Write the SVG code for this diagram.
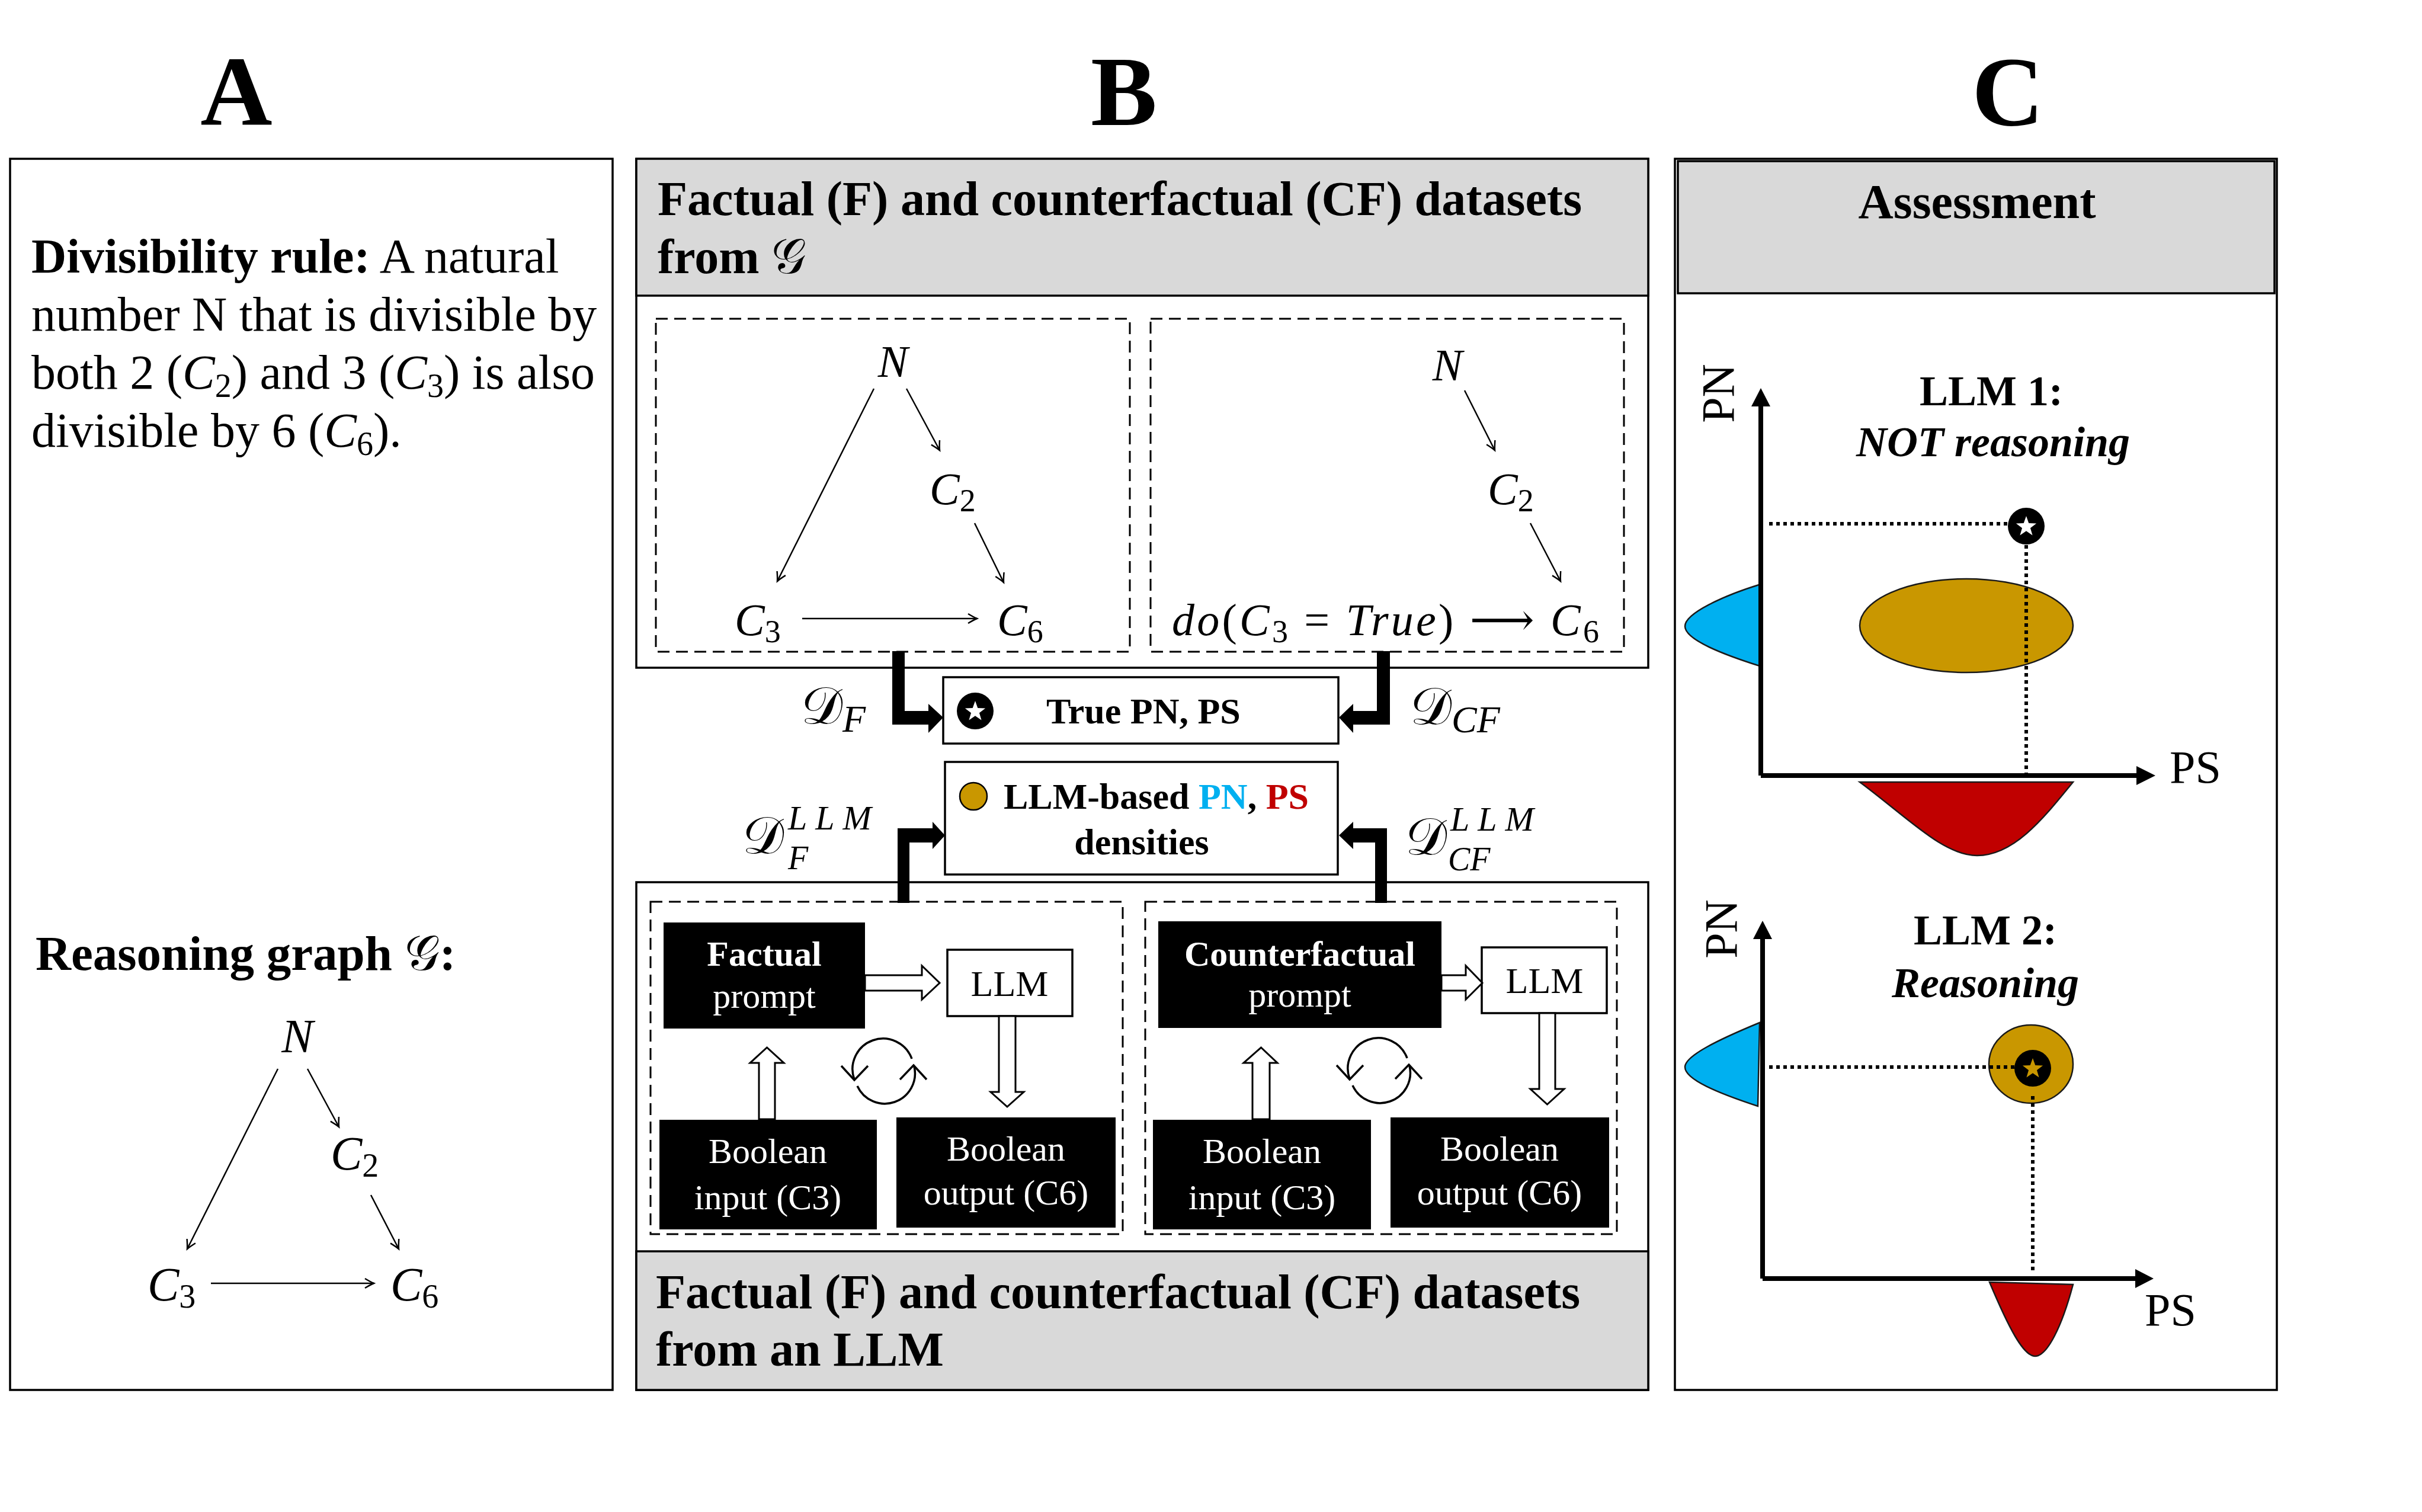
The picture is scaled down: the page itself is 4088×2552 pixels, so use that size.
<svg xmlns="http://www.w3.org/2000/svg" width="4088" height="2552" viewBox="0 0 4088 2552">
<style>
.t{font-family:"Liberation Serif","Times New Roman",serif;fill:#000}
.b{font-weight:bold}
.i{font-style:italic}
.w{fill:#fff}
.box{fill:#fff;stroke:#000;stroke-width:3.5}
.gray{fill:#D9D9D9;stroke:#000;stroke-width:3.5}
.dash{fill:none;stroke:#000;stroke-width:3;stroke-dasharray:20 11}
.blk{fill:#000}
.edge{fill:none;stroke:#000;stroke-width:2.5;marker-end:url(#tip)}
.hollow{fill:#fff;stroke:#000;stroke-width:3}
.thick{fill:#000}
.axis{fill:none;stroke:#000;stroke-width:8}
.dot{fill:none;stroke:#000;stroke-width:6;stroke-dasharray:6 6}
.cyc{fill:none;stroke:#000;stroke-width:3.5}
.math{font-family:"DejaVu Serif","Liberation Serif",serif;font-style:normal}
</style>
<defs>
<marker id="tip" viewBox="-20 -12 24 24" markerWidth="24" markerHeight="24" refX="0" refY="0" orient="auto" markerUnits="userSpaceOnUse" overflow="visible">
<path d="M-15,-8 Q-5,-2 0,0 Q-5,2 -15,8" fill="none" stroke="#000" stroke-width="2.5"/>
</marker>
<polygon id="star" points="0,-18 4.29,-5.91 17.12,-5.56 6.94,2.26 10.58,14.56 0,7.3 -10.58,14.56 -6.94,2.26 -17.12,-5.56 -4.29,-5.91"/>
<g id="cycle">
<path class="cyc" d="M47,-21 A51,51 0 0 0 -50,14"/>
<path class="cyc" d="M-72,-9 L-50,15 L-27,-9"/>
<path class="cyc" d="M-45,25 A51,51 0 0 0 51,-8"/>
<path class="cyc" d="M27,14 L50,-10 L72,14"/>
</g>
</defs>
<rect width="4088" height="2552" fill="#fff"/>

<g id="labels">
<text class="t b" x="399" y="211" font-size="168" text-anchor="middle">A</text>
<text class="t b" x="1897" y="211" font-size="168" text-anchor="middle">B</text>
<text class="t b" x="3389" y="211" font-size="168" text-anchor="middle">C</text>
</g>

<!-- Panel A -->
<g id="panelA">
<rect class="box" x="17" y="268" width="1017" height="2078"/>
<text class="t" x="53" y="460" font-size="82"><tspan class="b">Divisibility rule:</tspan> A natural</text>
<text class="t" x="53" y="558" font-size="82">number N that is divisible by</text>
<text class="t" x="53" y="656" font-size="82">both 2 (<tspan class="i">C</tspan><tspan dy="14" font-size="56">2</tspan><tspan dy="-14">) and 3 (</tspan><tspan class="i">C</tspan><tspan dy="14" font-size="56">3</tspan><tspan dy="-14">) is also</tspan></text>
<text class="t" x="53" y="754" font-size="82">divisible by 6 (<tspan class="i">C</tspan><tspan dy="14" font-size="56">6</tspan><tspan dy="-14">).</tspan></text>
<text class="t b" x="60" y="1637" font-size="83">Reasoning graph <tspan class="math" font-weight="normal">𝒢</tspan>:</text>
</g>
<g id="graphA">
<text class="t i" x="502" y="1776" font-size="80" text-anchor="middle">N</text>
<text class="t" x="558" y="1974" font-size="80"><tspan class="i">C</tspan><tspan dy="12" font-size="56">2</tspan></text>
<text class="t" x="249" y="2195" font-size="80"><tspan class="i">C</tspan><tspan dy="12" font-size="56">3</tspan></text>
<text class="t" x="659" y="2195" font-size="80"><tspan class="i">C</tspan><tspan dy="12" font-size="56">6</tspan></text>
<line class="edge" x1="469" y1="1804" x2="316" y2="2108"/>
<line class="edge" x1="519" y1="1804" x2="572" y2="1902"/>
<line class="edge" x1="626" y1="2017" x2="673" y2="2108"/>
<line class="edge" x1="356" y1="2166" x2="631" y2="2166"/>
</g>

<!-- Panel B top -->
<g id="panelB-top">
<rect class="box" x="1074" y="268" width="1708" height="859"/>
<rect class="gray" x="1074" y="268" width="1708" height="231"/>
<text class="t b" x="1110" y="363" font-size="82">Factual (F) and counterfactual (CF) datasets</text>
<text class="t b" x="1110" y="461" font-size="82">from <tspan class="math" font-weight="normal">𝒢</tspan></text>
</g>
<g id="graphF">
<rect class="dash" x="1107" y="538" width="800" height="562"/>
<text class="t i" x="1507" y="636" font-size="76" text-anchor="middle">N</text>
<text class="t" x="1569" y="851" font-size="76"><tspan class="i">C</tspan><tspan dy="12" font-size="54">2</tspan></text>
<text class="t" x="1240" y="1072" font-size="76"><tspan class="i">C</tspan><tspan dy="12" font-size="54">3</tspan></text>
<text class="t" x="1683" y="1072" font-size="76"><tspan class="i">C</tspan><tspan dy="12" font-size="54">6</tspan></text>
<line class="edge" x1="1475" y1="656" x2="1312" y2="981"/>
<line class="edge" x1="1530" y1="656" x2="1586" y2="760"/>
<line class="edge" x1="1645" y1="883" x2="1694" y2="983"/>
<line class="edge" x1="1354" y1="1044" x2="1649" y2="1044"/>
</g>
<g id="graphCF">
<rect class="dash" x="1942" y="538" width="799" height="562"/>
<text class="t i" x="2443" y="642" font-size="76" text-anchor="middle">N</text>
<text class="t" x="2511" y="851" font-size="76"><tspan class="i">C</tspan><tspan dy="12" font-size="54">2</tspan></text>
<text class="t" x="1978" y="1072" font-size="76" textLength="721" lengthAdjust="spacing"><tspan class="i">do</tspan>(<tspan class="i">C</tspan><tspan dy="12" font-size="54">3</tspan><tspan dy="-12"> = </tspan><tspan class="i">True</tspan>) <tspan class="math">⟶</tspan> <tspan class="i">C</tspan><tspan dy="12" font-size="54">6</tspan></text>
<line class="edge" x1="2472" y1="659" x2="2523" y2="760"/>
<line class="edge" x1="2583" y1="883" x2="2634" y2="981"/>
</g>

<!-- middle boxes -->
<g id="truePNPS">
<rect class="box" x="1592" y="1143" width="667" height="112"/>
<circle cx="1646" cy="1200" r="31" class="blk"/>
<use href="#star" x="1646" y="1201" fill="#fff"/>
<text class="t b" x="1766" y="1221" font-size="62">True PN, PS</text>
</g>
<g id="llmPNPS">
<rect class="box" x="1595" y="1286" width="663" height="190"/>
<circle cx="1643" cy="1344" r="23" fill="#C99700" stroke="#000" stroke-width="2.5"/>
<text class="t b" x="1694" y="1365" font-size="62">LLM-based <tspan fill="#00B0F0">PN</tspan>, <tspan fill="#C00000">PS</tspan></text>
<text class="t b" x="1927" y="1442" font-size="62" text-anchor="middle">densities</text>
</g>
<g id="dataset-labels">
<text class="t" x="1352" y="1221" font-size="88"><tspan class="math">𝒟</tspan><tspan class="i" dy="14" font-size="64">F</tspan></text>
<text class="t" x="2380" y="1222" font-size="88"><tspan class="math">𝒟</tspan><tspan class="i" dy="14" font-size="64">CF</tspan></text>
<text class="t" x="1253" y="1440" font-size="88"><tspan class="math">𝒟</tspan></text>
<text class="t i" x="1330" y="1400" font-size="58" letter-spacing="14">LLM</text>
<text class="t i" x="1330" y="1467" font-size="56">F</text>
<text class="t" x="2372" y="1442" font-size="88"><tspan class="math">𝒟</tspan></text>
<text class="t i" x="2448" y="1402" font-size="58" letter-spacing="14">LLM</text>
<text class="t i" x="2444" y="1469" font-size="56">CF</text>
</g>

<!-- Panel B bottom -->
<g id="panelB-bottom">
<rect class="box" x="1074" y="1489" width="1708" height="857"/>
<rect class="gray" x="1074" y="2112" width="1708" height="234"/>
<text class="t b" x="1107" y="2208" font-size="82">Factual (F) and counterfactual (CF) datasets</text>
<text class="t b" x="1107" y="2305" font-size="82">from an LLM</text>
</g>
<g id="llmF">
<rect class="dash" x="1098" y="1522" width="797" height="561"/>
<rect class="blk" x="1120" y="1557" width="340" height="179"/>
<text class="t b w" x="1290" y="1630" font-size="60" text-anchor="middle">Factual</text>
<text class="t w" x="1290" y="1701" font-size="60" text-anchor="middle">prompt</text>
<rect class="box" x="1599" y="1603" width="211" height="112"/>
<text class="t" x="1704" y="1681" font-size="62" text-anchor="middle">LLM</text>
<rect class="blk" x="1113" y="1890" width="367" height="185"/>
<text class="t w" x="1296" y="1963" font-size="60" text-anchor="middle">Boolean</text>
<text class="t w" x="1296" y="2041" font-size="60" text-anchor="middle">input (C3)</text>
<rect class="blk" x="1513" y="1886" width="370" height="186"/>
<text class="t w" x="1698" y="1959" font-size="60" text-anchor="middle">Boolean</text>
<text class="t w" x="1698" y="2033" font-size="60" text-anchor="middle">output (C6)</text>
<use href="#cycle" x="1492" y="1808"/>
</g>
<g id="llmCF">
<rect class="dash" x="1933" y="1522" width="796" height="561"/>
<rect class="blk" x="1955" y="1555" width="478" height="180"/>
<text class="t b w" x="2194" y="1630" font-size="60" text-anchor="middle">Counterfactual</text>
<text class="t w" x="2194" y="1699" font-size="60" text-anchor="middle">prompt</text>
<rect class="box" x="2501" y="1599" width="211" height="111"/>
<text class="t" x="2607" y="1676" font-size="62" text-anchor="middle">LLM</text>
<rect class="blk" x="1946" y="1890" width="368" height="185"/>
<text class="t w" x="2130" y="1963" font-size="60" text-anchor="middle">Boolean</text>
<text class="t w" x="2130" y="2041" font-size="60" text-anchor="middle">input (C3)</text>
<rect class="blk" x="2347" y="1886" width="369" height="186"/>
<text class="t w" x="2531" y="1959" font-size="60" text-anchor="middle">Boolean</text>
<text class="t w" x="2531" y="2033" font-size="60" text-anchor="middle">output (C6)</text>
<use href="#cycle" x="2328" y="1807"/>
</g>

<g id="connectors">
<polygon class="thick" points="1506,1099 1527,1099 1527,1200 1567,1200 1567,1188 1592,1211 1567,1237 1567,1223 1506,1223"/>
<polygon class="thick" points="2324,1099 2346,1099 2346,1223 2284,1223 2284,1237 2260,1211 2284,1188 2284,1200 2324,1200"/>
<polygon class="thick" points="1515,1524 1535,1524 1535,1422 1574,1422 1574,1433 1595,1410 1574,1387 1574,1398 1515,1398"/>
<polygon class="thick" points="2341,1524 2321,1524 2321,1422 2284,1422 2284,1433 2260,1410 2284,1387 2284,1398 2341,1398"/>
<polygon class="hollow" points="1460,1646 1556,1646 1556,1630 1586,1659 1556,1687 1556,1672 1460,1672"/>
<polygon class="hollow" points="2433,1646 2474,1646 2474,1630 2502,1659 2474,1687 2474,1672 2433,1672"/>
<polygon class="hollow" points="1281,1889 1281,1794 1266,1794 1294.5,1768 1323,1794 1308,1794 1308,1889"/>
<polygon class="hollow" points="2114,1889 2114,1794 2099,1794 2128.5,1768 2156,1794 2143,1794 2143,1889"/>
<polygon class="hollow" points="1686,1715 1714,1715 1714,1843 1728,1843 1700,1868 1672,1843 1686,1843"/>
<polygon class="hollow" points="2598,1710 2625,1710 2625,1838 2640,1838 2611.5,1864 2583,1838 2598,1838"/>
</g>

<!-- Panel C -->
<g id="panelC">
<rect class="box" x="2827" y="268" width="1016" height="2078"/>
<rect class="gray" x="2832" y="272" width="1007" height="223" stroke-width="3"/>
<text class="t b" x="3337" y="368" font-size="82" text-anchor="middle">Assessment</text>
</g>
<g id="llm1">
<text class="t b" x="3361" y="684" font-size="72" text-anchor="middle">LLM 1:</text>
<text class="t b i" x="3364" y="770" font-size="72" text-anchor="middle">NOT reasoning</text>
<path d="M2972,986 C2910,1005 2844,1035 2844,1057 C2844,1080 2910,1105 2970,1124 Z" fill="#00B0F0" stroke="#1a1a1a" stroke-width="2.5"/>
<path d="M3139,1320 C3220,1380 3280,1444 3337,1444 C3400,1444 3450,1380 3499,1320 Z" fill="#C00000" stroke="#1a1a1a" stroke-width="2.5"/>
<ellipse cx="3319" cy="1056" rx="180" ry="79" fill="#C99700" stroke="#1a1a1a" stroke-width="2.5"/>
<line class="dot" x1="2986" y1="884" x2="3392" y2="884"/>
<line class="dot" x1="3420" y1="920" x2="3420" y2="1305"/>
<circle cx="3420" cy="888" r="31" class="blk"/>
<use href="#star" x="3420" y="889" fill="#fff"/>
<path class="axis" d="M2972,1309 L2972,683 M2972,1309 L3608,1309"/>
<polygon class="blk" points="2956,686 2972,655 2988,686"/>
<polygon class="blk" points="3606,1293 3638,1309 3606,1325"/>
<text class="t" x="3662" y="1321" font-size="78">PS</text>
<text class="t" transform="translate(2926,664) rotate(-90)" font-size="78" text-anchor="middle">PN</text>
</g>
<g id="llm2">
<text class="t b" x="3351" y="1594" font-size="72" text-anchor="middle">LLM 2:</text>
<text class="t b i" x="3351" y="1683" font-size="72" text-anchor="middle">Reasoning</text>
<path d="M2970,1726 C2900,1755 2844,1782 2844,1801 C2844,1822 2900,1845 2967,1867 Z" fill="#00B0F0" stroke="#1a1a1a" stroke-width="2.5"/>
<path d="M3358,2164 C3390,2240 3415,2289 3435,2289 C3455,2289 3480,2240 3499,2168 Z" fill="#C00000" stroke="#1a1a1a" stroke-width="2.5"/>
<ellipse cx="3428" cy="1796" rx="71" ry="66" fill="#C99700" stroke="#1a1a1a" stroke-width="2.5"/>
<line class="dot" x1="2986" y1="1801" x2="3400" y2="1801"/>
<line class="dot" x1="3431" y1="1850" x2="3431" y2="2150"/>
<circle cx="3431" cy="1803" r="31" class="blk"/>
<use href="#star" x="3431" y="1804" fill="#C99700"/>
<path class="axis" d="M2975,2158 L2975,1582 M2975,2158 L3606,2158"/>
<polygon class="blk" points="2959,1585 2975,1554 2991,1585"/>
<polygon class="blk" points="3604,2142 3635,2158 3604,2174"/>
<text class="t" x="3620" y="2237" font-size="78">PS</text>
<text class="t" transform="translate(2931,1568) rotate(-90)" font-size="78" text-anchor="middle">PN</text>
</g>
</svg>
